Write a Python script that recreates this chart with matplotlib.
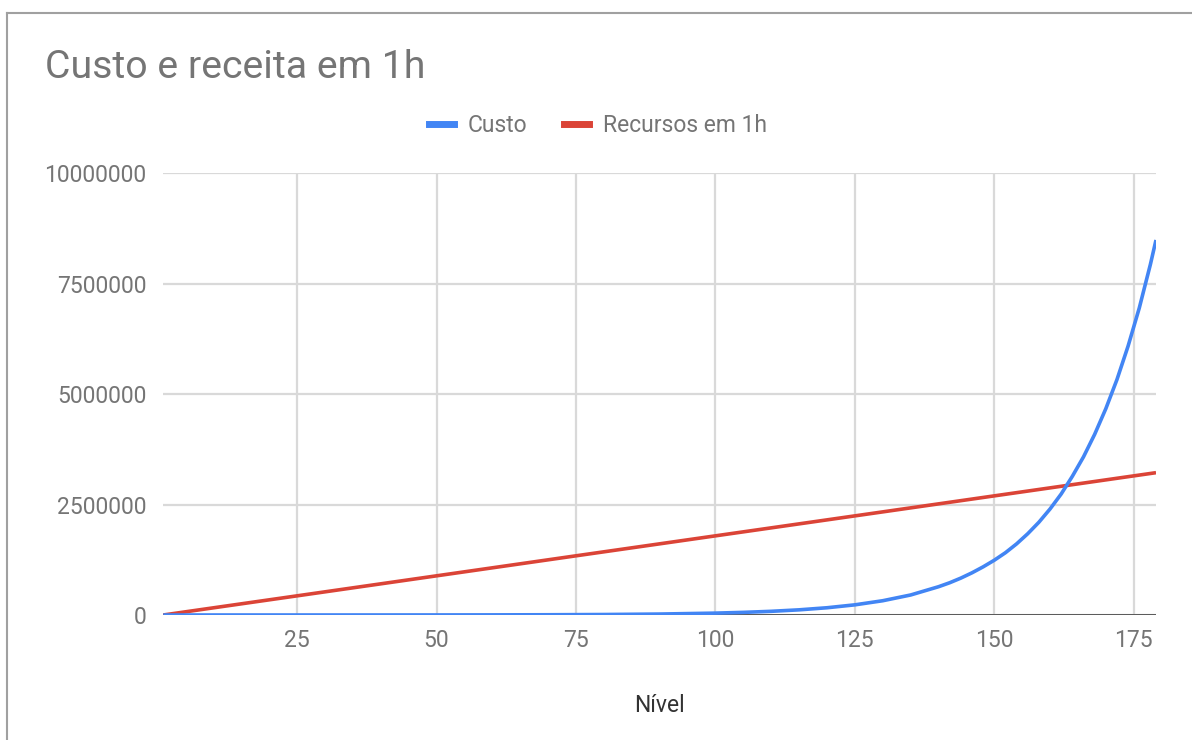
import matplotlib
matplotlib.use("Agg")
import matplotlib.pyplot as plt
from matplotlib.lines import Line2D
from matplotlib.ticker import FuncFormatter

plt.rcParams['font.family'] = ['Roboto', 'DejaVu Sans']

# Nivel x custo (cresce ~7% por nivel)
nivel_custo = [1, 10, 20, 30, 40, 50, 60, 70, 80, 90, 100, 105, 110, 115, 120,
               125, 130, 135, 140, 142, 144, 146, 148, 150, 152, 154, 156, 158,
               160, 162, 164, 166, 168, 170, 172, 174, 176, 178, 179]
custo = [50, 95, 190, 370, 730, 1400, 2800, 5600, 11000, 21600, 42400, 59500,
         83400, 117000, 164000, 230000, 323000, 453000, 640000, 730000, 835000,
         955000, 1090000, 1240000, 1410000, 1610000, 1840000, 2100000,
         2400000, 2740000, 3140000, 3580000, 4090000, 4670000, 5330000,
         6090000, 6950000, 7940000, 8490000]

# Nivel x recursos gerados em 1h (linear)
nivel_rec = [1, 25, 50, 75, 100, 125, 150, 179]
recursos = [0, 434000, 887000, 1340000, 1792000, 2244000, 2697000, 3222000]

x_ticks = [25, 50, 75, 100, 125, 150, 175]
y_ticks = [0, 2500000, 5000000, 7500000, 10000000]

AZUL = '#4285F4'
VERMELHO = '#DB4437'
CINZA = '#757575'

fig = plt.figure(figsize=(11.92, 7.40), dpi=100)
ax = fig.add_axes([163.3 / 1192, 1 - 615 / 740, (1156 - 163.3) / 1192, (615 - 173.3) / 740])

ax.plot(nivel_rec, recursos, color=VERMELHO, lw=2.6, solid_capstyle='butt', zorder=3)
ax.plot(nivel_custo, custo, color=AZUL, lw=2.6, solid_capstyle='butt',
        solid_joinstyle='round', zorder=4)

ax.set_xlim(1, 179)
ax.set_ylim(0, 10000000)
ax.set_xticks(x_ticks)
ax.set_yticks(y_ticks)
ax.yaxis.set_major_formatter(FuncFormatter(lambda v, p: f"{int(v)}"))

ax.grid(True, color='#d9d9d9', lw=1.6)
ax.set_axisbelow(True)
ax.axhline(0, color='#333333', lw=1.8, zorder=2)
for s in ax.spines.values():
    s.set_visible(False)
ax.tick_params(length=0, labelsize=16.5, labelcolor=CINZA)
ax.tick_params(axis='y', pad=12)
ax.tick_params(axis='x', pad=10)

ax.set_xlabel('Nível', fontsize=16.5, color='#333333', labelpad=30)

fig.text(45 / 1192, 1 - 68 / 740, 'Custo e receita em 1h', fontsize=28.3,
         color=CINZA, va='center', ha='left')

handles = [Line2D([], [], color=AZUL, lw=5), Line2D([], [], color=VERMELHO, lw=5)]
fig.legend(handles, ['Custo', 'Recursos em 1h'], loc='center',
           bbox_to_anchor=(598 / 1192, 1 - 126 / 740), ncol=2, frameon=False,
           fontsize=16.5, labelcolor=CINZA, handlelength=1.1, handletextpad=0.6,
           columnspacing=1.6)

# moldura do grafico (esquerda e topo)
fig.add_artist(Line2D([7.5 / 1192, 7.5 / 1192], [0, 1 - 12.5 / 740],
                      transform=fig.transFigure, color='#a0a0a0', lw=1.5))
fig.add_artist(Line2D([7.5 / 1192, 1], [1 - 12.5 / 740, 1 - 12.5 / 740],
                      transform=fig.transFigure, color='#a0a0a0', lw=1.5))

fig.savefig('out.png', dpi=100)
